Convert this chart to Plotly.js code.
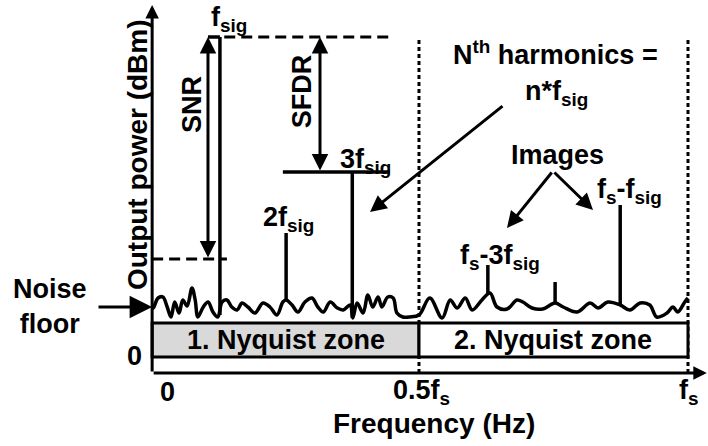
<!DOCTYPE html>
<html>
<head>
<meta charset="utf-8">
<script src="https://cdn.plot.ly/plotly-3.0.1.min.js"></script>
<style>html,body{margin:0;padding:0;background:#fff;}#chart{width:708px;height:446px;}</style>
</head>
<body>
<div id="chart"></div>
<script>
// ---- data (frequency as fraction of fs, power in dB above the 0 baseline) ----
const peakLabels = ['f_sig', '2f_sig', '3f_sig', 'f_s-3f_sig', 'f_s-2f_sig', 'f_s-f_sig'];
const peakFreq   = [0.130, 0.253, 0.376, 0.628, 0.753, 0.874];
const peakPower  = [80, 31, 46.25, 23, 18.75, 38];
const peakBase   = [10.5, 14.25, 9.75, 15.5, 13.5, 13.0];

const noiseFreq = [0.006,0.015,0.024,0.032,0.039,0.046,0.054,0.061,0.069,0.078,0.084,0.089,0.099,0.108,0.117,0.126,0.134,0.143,0.152,0.162,0.171,0.182,0.195,0.210,0.223,0.236,0.247,0.253,0.264,0.275,0.288,0.301,0.312,0.322,0.335,0.348,0.359,0.372,0.377,0.385,0.396,0.405,0.414,0.424,0.431,0.442,0.452,0.459,0.470,0.483,0.500,
  0.520,0.543,0.558,0.571,0.586,0.599,0.617,0.632,0.645,0.664,0.682,0.693,0.710,0.730,0.753,0.768,0.794,0.818,0.833,0.851,0.874,0.892,0.911,0.929,0.942,0.961,0.972,0.981,0.994,1.000];
const noisePower = [12.25,14.75,15.0,12.5,10.0,13.75,11.0,14.25,12.75,17.25,14.25,10.0,12.5,13.75,11.25,10.0,13.75,14.25,12.5,11.75,13.5,12.5,11.0,13.5,12.5,10.5,13.75,14.25,13.0,11.25,13.75,14.75,12.5,11.25,13.75,12.25,11.75,13.0,9.75,13.5,11.0,15.5,12.5,15.0,12.5,15.0,14.75,11.0,10.0,10.0,10.5,
  14.75,9.75,14.25,12.25,14.75,11.75,14.25,16.0,12.5,12.0,14.25,13.75,12.25,12.0,13.5,12.5,11.25,13.5,12.25,13.75,13.0,11.75,13.5,13.0,10.0,11.0,12.5,11.25,13.75,14.75];

const xTickVals = [0, 0.5, 1];
const xTickText = ['0', '0.5f<sub>s</sub>', 'f<sub>s</sub>'];
const zoneNames = ['1. Nyquist zone', '2. Nyquist zone'];
const zoneEdges = [0.004, 0.5, 1.0];
const zoneTop = 8.5;
const snrNoiseRef = 24.5;

// ---- traces ----
const px = [], py = [];
for (let i = 0; i < peakFreq.length; i++) {
  px.push(peakFreq[i], peakFreq[i], null);
  py.push(peakBase[i], peakPower[i], null);
}
const noiseX = [zoneEdges[0]].concat(noiseFreq);
const noiseY = [12.5].concat(noisePower);

const traces = [
  {x: noiseX, y: noiseY, mode: 'lines', line: {color: '#000', width: 3.5, shape: 'spline', smoothing: 1}, hoverinfo: 'skip'},
  {x: px, y: py, mode: 'lines', line: {color: '#000', width: 3.5}, hoverinfo: 'skip', connectgaps: false}
];

const F = {family: 'Liberation Sans, Arial, sans-serif', size: 27, color: '#000', weight: 'bold'};
const FL = Object.assign({}, F, {size: 28});

const fsig = peakPower[0], f3 = peakPower[2];
const shapes = [];
// dotted zone boundaries
[0.5, 1.0].forEach(v => shapes.push({type: 'line', xref: 'x', yref: 'y', x0: v, x1: v, y0: -4, y1: fsig,
  line: {color: '#000', width: 3, dash: '4px,3px'}}));
// zone boxes
shapes.push({type: 'rect', xref: 'x', yref: 'y', x0: zoneEdges[0], x1: zoneEdges[1], y0: 0, y1: zoneTop,
  fillcolor: '#d9d9d9', line: {color: '#000', width: 3}});
shapes.push({type: 'rect', xref: 'x', yref: 'y', x0: zoneEdges[1], x1: zoneEdges[2], y0: 0, y1: zoneTop,
  fillcolor: '#ffffff', line: {color: '#000', width: 3}});
// fsig cap and dashed level
shapes.push({type: 'line', xref: 'x', yref: 'y', x0: 0.1078, x1: peakFreq[0], y0: fsig, y1: fsig, line: {color: '#000', width: 3.5}});
shapes.push({type: 'line', xref: 'x', yref: 'y', x0: peakFreq[0] + 0.008, x1: 0.446, y0: fsig, y1: fsig, line: {color: '#000', width: 3, dash: '11px,6px'}});
// SNR lower dashed reference
shapes.push({type: 'line', xref: 'x', yref: 'y', x0: zoneEdges[0], x1: 0.143, y0: snrNoiseRef, y1: snrNoiseRef, line: {color: '#000', width: 3, dash: '11px,6px'}});
// 3fsig level
shapes.push({type: 'line', xref: 'x', yref: 'y', x0: 0.247, x1: 0.446, y0: f3, y1: f3, line: {color: '#000', width: 3.5}});

function arrow(x, y, ax, ay, opts) {
  return Object.assign({x: x, y: y, ax: ax, ay: ay, xref: 'x', yref: 'y', axref: 'x', ayref: 'y', text: '',
    showarrow: true, arrowhead: 2, arrowsize: 1.1, arrowwidth: 3, arrowcolor: '#000', standoff: 0, startstandoff: 0}, opts || {});
}
function label(text, x, y, opts) {
  return Object.assign({text: text, x: x, y: y, xref: 'x', yref: 'y', showarrow: false, font: F,
    xanchor: 'center', yanchor: 'middle'}, opts || {});
}

const annotations = [
  // axes
  arrow(zoneEdges[0], 88, zoneEdges[0], -4, {arrowsize: 0.9}),
  arrow(1.035, -4, zoneEdges[0], -4, {arrowsize: 0.9}),
  // noise floor arrow
  arrow(zoneEdges[0], 12.5, -0.0985, 12.5, {arrowsize: 1.5}),
  // SNR and SFDR double arrows
  arrow(0.1078, fsig, 0.1078, snrNoiseRef, {arrowside: 'end+start', startarrowhead: 2, startarrowsize: 1.1}),
  arrow(0.316, fsig, 0.316, f3, {arrowside: 'end+start', startarrowhead: 2, startarrowsize: 1.1}),
  // harmonics pointer
  arrow(0.409, 36.25, 0.658, 63),
  // image pointers
  arrow(0.6636, 32.25, 0.749, 46.5),
  arrow(0.8234, 36.75, 0.749, 46.5),
  // text labels
  label('f<sub>sig</sub>', 0.147, 84.5),
  label('SNR', 0.078, 63.25, {textangle: -90}),
  label('SFDR', 0.283, 66.5, {textangle: -90}),
  label('3f<sub>sig</sub>', 0.400, 49.0),
  label('2f<sub>sig</sub>', 0.257, 34.5),
  label('N<sup>th</sup> harmonics =', 0.753, 76),
  label('n*f<sub>sig</sub>', 0.755, 66.0),
  label('Images', 0.757, 50.5),
  label('f<sub>s</sub>-f<sub>sig</sub>', 0.892, 41.5),
  label('f<sub>s</sub>-3f<sub>sig</sub>', 0.651, 25.0),
  label('Output power (dBm)', -0.024, 50.5, {textangle: -90, font: FL}),
  label('Frequency (Hz)', 0.528, -16.5, {font: FL}),
  label('Noise<br>floor', -0.186, 12.75),
  label('0', -0.028, 0.25),
  label(zoneNames[0], (zoneEdges[0] + zoneEdges[1]) / 2, zoneTop / 2),
  label(zoneNames[1], (zoneEdges[1] + zoneEdges[2]) / 2, zoneTop / 2),
  label(xTickText[0], xTickVals[0] + 0.033, -8.75),
  label(xTickText[1], xTickVals[1] + 0.004, -8.75),
  label(xTickText[2], xTickVals[2] + 0.002, -8.75)
];

const layout = {
  width: 708, height: 446,
  margin: {l: 0, r: 0, t: 0, b: 0, pad: 0},
  paper_bgcolor: '#fff', plot_bgcolor: '#fff',
  showlegend: false,
  font: F,
  xaxis: {range: [-0.2788, 1.0372], visible: false, fixedrange: true},
  yaxis: {range: [-22.25, 89.25], visible: false, fixedrange: true},
  shapes: shapes,
  annotations: annotations
};

Plotly.newPlot('chart', traces, layout, {staticPlot: true, displayModeBar: false});
</script>
</body>
</html>
